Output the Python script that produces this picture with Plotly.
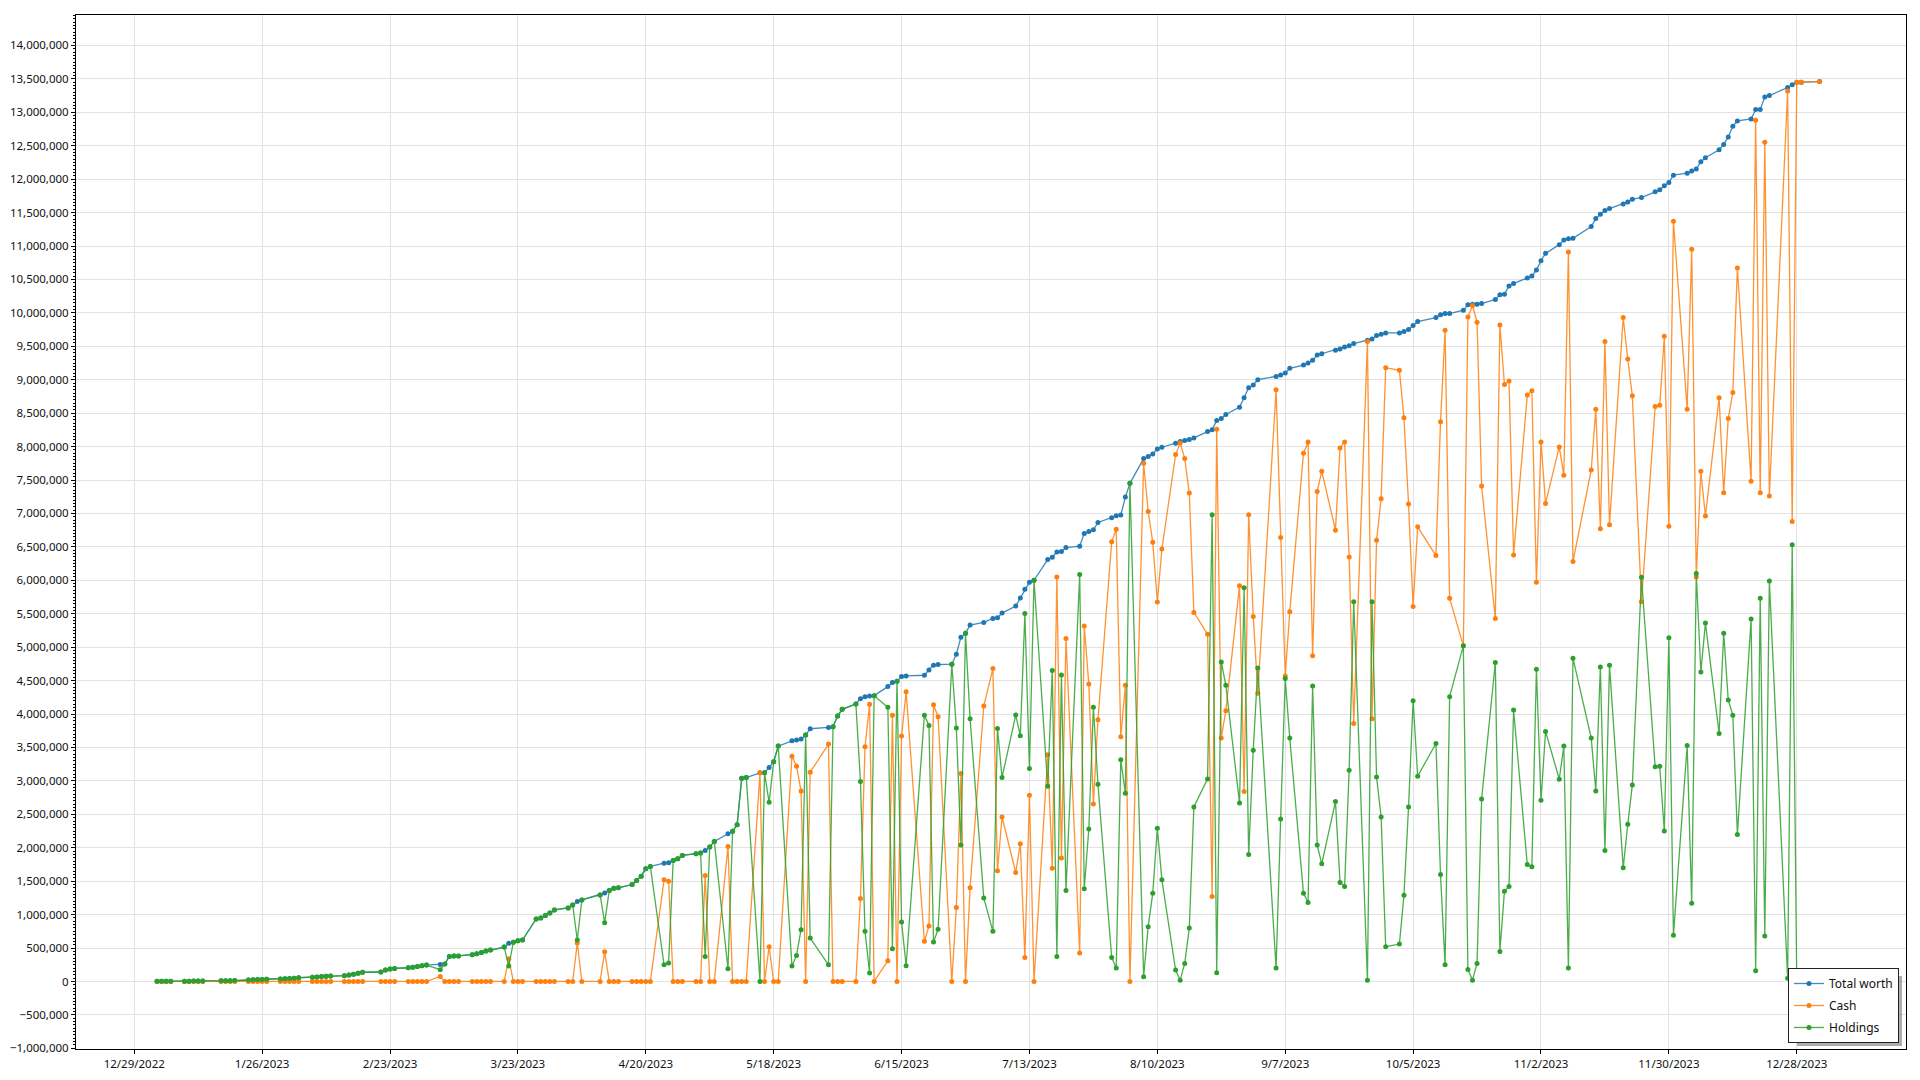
import plotly.graph_objects as go

# Trading days shown on the chart (month -> day numbers)
TRADING_DAYS = {
    "2023-01": [3, 4, 5, 6, 9, 10, 11, 12, 13, 17, 18, 19, 20, 23, 24, 25, 26, 27, 30, 31],
    "2023-02": [1, 2, 3, 6, 7, 8, 9, 10, 13, 14, 15, 16, 17, 21, 22, 23, 24, 27, 28],
    "2023-03": [1, 2, 3, 6, 7, 8, 9, 10, 13, 14, 15, 16, 17, 20, 21, 22, 23, 24, 27, 28, 29, 30, 31],
    "2023-04": [3, 4, 5, 6, 10, 11, 12, 13, 14, 17, 18, 19, 20, 21, 24, 25, 26, 27, 28],
    "2023-05": [1, 2, 3, 4, 5, 8, 9, 10, 11, 12, 15, 16, 17, 18, 19, 22, 23, 24, 25, 26, 30, 31],
    "2023-06": [1, 2, 5, 6, 7, 8, 9, 12, 13, 14, 15, 16, 20, 21, 22, 23, 26, 27, 28, 29, 30],
    "2023-07": [3, 5, 6, 7, 10, 11, 12, 13, 14, 17, 18, 19, 20, 21, 24, 25, 26, 27, 28, 31],
    "2023-08": [1, 2, 3, 4, 7, 8, 9, 10, 11, 14, 15, 16, 17, 18, 21, 22, 23, 24, 25, 28, 29, 30, 31],
    "2023-09": [1, 5, 6, 7, 8, 11, 12, 13, 14, 15, 18, 19, 20, 21, 22, 25, 26, 27, 28, 29],
    "2023-10": [2, 3, 4, 5, 6, 10, 11, 12, 13, 16, 17, 18, 19, 20, 23, 24, 25, 26, 27, 30, 31],
    "2023-11": [1, 2, 3, 6, 7, 8, 9, 13, 14, 15, 16, 17, 20, 21, 22, 24, 27, 28, 29, 30],
    "2023-12": [1, 4, 5, 6, 7, 8, 11, 12, 13, 14, 15, 18, 19, 20, 21, 22, 26, 27, 28, 29],
    "2024-01": [2],
}

# Values in millions
TOTAL_WORTH_M = [
    # Jan
    0.002, 0.002, 0.003, 0.003, 0.005, 0.005, 0.006, 0.006, 0.007, 0.010, 0.011, 0.012, 0.013,
    0.022, 0.025, 0.028, 0.030, 0.032, 0.038, 0.042,
    # Feb
    0.046, 0.050, 0.055, 0.062, 0.068, 0.073, 0.078, 0.082, 0.087, 0.095, 0.108, 0.122, 0.138,
    0.142, 0.170, 0.185, 0.195, 0.205, 0.212,
    # Mar
    0.225, 0.235, 0.245, 0.252, 0.262, 0.375, 0.380, 0.382, 0.400, 0.415, 0.435, 0.455, 0.470,
    0.515, 0.570, 0.585, 0.610, 0.620, 0.935, 0.950, 0.985, 1.025, 1.070,
    # Apr
    1.100, 1.145, 1.195, 1.220, 1.295, 1.325, 1.360, 1.395, 1.400, 1.450, 1.510, 1.575, 1.685,
    1.720, 1.770, 1.775, 1.810, 1.835, 1.885,
    # May
    1.910, 1.920, 1.960, 2.010, 2.095, 2.210, 2.245, 2.345, 3.040, 3.050, 3.120, 3.120, 3.200,
    3.285, 3.520, 3.600, 3.610, 3.625, 3.685, 3.780, 3.800, 3.810,
    # Jun
    3.970, 4.070, 4.150, 4.230, 4.260, 4.270, 4.275, 4.410, 4.470, 4.490, 4.560, 4.570, 4.580,
    4.660, 4.730, 4.740, 4.745, 4.895, 5.150, 5.210, 5.330,
    # Jul
    5.370, 5.430, 5.440, 5.510, 5.615, 5.735, 5.865, 5.970, 6.000, 6.310, 6.345, 6.425, 6.430,
    6.490, 6.510, 6.700, 6.730, 6.755, 6.865, 6.935,
    # Aug
    6.965, 6.975, 7.245, 7.450, 7.820, 7.850, 7.890, 7.965, 7.990, 8.050, 8.075, 8.090, 8.105,
    8.130, 8.225, 8.250, 8.390, 8.420, 8.480, 8.590, 8.730, 8.880, 8.920,
    # Sep
    9.000, 9.050, 9.070, 9.100, 9.170, 9.220, 9.250, 9.290, 9.370, 9.390, 9.440, 9.460, 9.490,
    9.510, 9.540, 9.590, 9.610, 9.660, 9.680, 9.700,
    # Oct
    9.700, 9.720, 9.750, 9.810, 9.870, 9.930, 9.970, 9.990, 9.990, 10.040, 10.120, 10.130,
    10.130, 10.140, 10.200, 10.270, 10.280, 10.400, 10.440, 10.520, 10.550,
    # Nov
    10.640, 10.780, 10.890, 11.020, 11.090, 11.110, 11.115, 11.290, 11.410, 11.475, 11.530,
    11.560, 11.630, 11.660, 11.700, 11.725, 11.810, 11.840, 11.900, 11.950,
    # Dec
    12.060, 12.090, 12.120, 12.150, 12.260, 12.320, 12.440, 12.520, 12.630, 12.790, 12.870,
    12.900, 13.040, 13.040, 13.230, 13.250, 13.370, 13.410, 13.450, 13.450,
    # Jan 2024
    13.460,
]

CASH_M = [
    # Jan
    0, 0, 0, 0, 0, 0, 0, 0, 0, 0, 0, 0, 0, 0, 0, 0, 0, 0, 0, 0,
    # Feb
    0, 0, 0, 0, 0, 0, 0, 0, 0, 0, 0, 0, 0, 0, 0, 0, 0, 0, 0,
    # Mar
    0, 0, 0, 0.075, 0, 0, 0, 0, 0, 0, 0, 0, 0, 0, 0.340, 0, 0, 0, 0, 0, 0, 0, 0,
    # Apr
    0, 0, 0.575, 0, 0, 0.445, 0, 0, 0, 0, 0, 0, 0, 0, 1.520, 1.500, 0, 0, 0,
    # May
    0, 0, 1.585, 0, 0, 2.020, 0, 0, 0, 0, 3.120, 0, 0.520, 0, 0, 3.370, 3.220, 2.850, 0,
    3.130, 3.550, 0,
    # Jun
    0, 0, 0, 1.240, 3.510, 4.145, 0, 0.310, 3.980, 0, 3.670, 4.335, 0.600, 0.830, 4.140,
    3.960, 0, 1.105, 3.110, 0, 1.400,
    # Jul
    4.120, 4.680, 1.655, 2.460, 1.630, 2.060, 0.360, 2.785, 0, 3.390, 1.695, 6.050, 1.845,
    5.130, 0.425, 5.315, 4.450, 2.655, 3.915, 6.575,
    # Aug
    6.765, 3.660, 4.430, 0, 7.750, 7.030, 6.570, 5.675, 6.470, 7.880, 8.055, 7.820, 7.305,
    5.520, 5.195, 1.270, 8.260, 3.640, 4.050, 5.920, 2.840, 6.980, 5.460,
    # Sep
    4.310, 8.850, 6.640, 4.570, 5.530, 7.900, 8.070, 4.870, 7.330, 7.630, 6.750, 7.980, 8.070,
    6.350, 3.860, 9.570, 3.930, 6.600, 7.220, 9.180,
    # Oct
    9.140, 8.430, 7.140, 5.610, 6.800, 6.370, 8.370, 9.740, 5.730, 5.020, 9.940, 10.110,
    9.860, 7.410, 5.430, 9.820, 8.930, 8.980, 6.380, 8.770, 8.835,
    # Nov
    5.970, 8.070, 7.150, 7.995, 7.570, 10.910, 6.280, 7.650, 8.560, 6.770, 9.570, 6.830,
    9.930, 9.310, 8.760, 5.680, 8.600, 8.620, 9.650, 6.810,
    # Dec
    11.370, 8.560, 10.950, 6.050, 7.630, 6.960, 8.730, 7.310, 8.420, 8.810, 10.670, 7.480,
    12.880, 7.310, 12.550, 7.260, 13.320, 6.880, 13.450, 13.450,
    # Jan 2024
    13.460,
]

HOLDINGS_M = [
    # Jan
    0.002, 0.002, 0.003, 0.003, 0.005, 0.005, 0.006, 0.006, 0.007, 0.010, 0.011, 0.012, 0.013,
    0.022, 0.025, 0.028, 0.030, 0.032, 0.038, 0.042,
    # Feb
    0.046, 0.050, 0.055, 0.062, 0.068, 0.073, 0.078, 0.082, 0.087, 0.095, 0.108, 0.122, 0.138,
    0.142, 0.170, 0.185, 0.195, 0.205, 0.212,
    # Mar
    0.225, 0.235, 0.245, 0.177, 0.262, 0.375, 0.380, 0.382, 0.400, 0.415, 0.435, 0.455, 0.470,
    0.515, 0.230, 0.585, 0.610, 0.620, 0.935, 0.950, 0.985, 1.025, 1.070,
    # Apr
    1.100, 1.145, 0.620, 1.220, 1.295, 0.880, 1.360, 1.395, 1.400, 1.450, 1.510, 1.575, 1.685,
    1.720, 0.250, 0.275, 1.810, 1.835, 1.885,
    # May
    1.910, 1.920, 0.375, 2.010, 2.095, 0.190, 2.245, 2.345, 3.040, 3.050, 0, 3.120, 2.680,
    3.285, 3.520, 0.230, 0.390, 0.775, 3.685, 0.650, 0.250, 3.810,
    # Jun
    3.970, 4.070, 4.150, 2.990, 0.750, 0.125, 4.275, 4.100, 0.490, 4.490, 0.890, 0.235, 3.980,
    3.830, 0.590, 0.780, 4.745, 3.790, 2.040, 5.210, 3.930,
    # Jul
    1.250, 0.750, 3.785, 3.050, 3.985, 3.675, 5.505, 3.185, 6.000, 2.920, 4.650, 0.375, 4.585,
    1.360, 6.085, 1.385, 2.280, 4.100, 2.950, 0.360,
    # Aug
    0.200, 3.315, 2.815, 7.450, 0.070, 0.820, 1.320, 2.290, 1.520, 0.170, 0.020, 0.270, 0.800,
    2.610, 3.030, 6.980, 0.130, 4.780, 4.430, 2.670, 5.890, 1.900, 3.460,
    # Sep
    4.690, 0.200, 2.430, 4.530, 3.640, 1.320, 1.180, 4.420, 2.040, 1.760, 2.690, 1.480, 1.420,
    3.160, 5.680, 0.020, 5.680, 3.060, 2.460, 0.520,
    # Oct
    0.560, 1.290, 2.610, 4.200, 3.070, 3.560, 1.600, 0.250, 4.260, 5.020, 0.180, 0.020, 0.270,
    2.730, 4.770, 0.450, 1.350, 1.420, 4.060, 1.750, 1.715,
    # Nov
    4.670, 2.710, 3.740, 3.025, 3.520, 0.200, 4.835, 3.640, 2.850, 4.705, 1.960, 4.730, 1.700,
    2.350, 2.940, 6.045, 3.210, 3.220, 2.250, 5.140,
    # Dec
    0.690, 3.530, 1.170, 6.100, 4.630, 5.360, 3.710, 5.210, 4.210, 3.980, 2.200, 5.420, 0.160,
    5.730, 0.680, 5.990, 0.050, 6.530, 0, 0,
    # Jan 2024
    0,
]

SERIES_NAMES = ["Total worth", "Cash", "Holdings"]

dates = [f"{ym}-{d:02d}" for ym, days in TRADING_DAYS.items() for d in days]
assert len(dates) == len(TOTAL_WORTH_M) == len(CASH_M) == len(HOLDINGS_M), (
    len(dates), len(TOTAL_WORTH_M), len(CASH_M), len(HOLDINGS_M))

series = [
    (SERIES_NAMES[0], TOTAL_WORTH_M, (31, 119, 180)),
    (SERIES_NAMES[1], CASH_M, (255, 127, 14)),
    (SERIES_NAMES[2], HOLDINGS_M, (44, 160, 44)),
]

fig = go.Figure()
for i, (name, vals, (r, g, b)) in enumerate(series):
    fig.add_trace(go.Scatter(
        x=dates,
        y=[v * 1_000_000 for v in vals],
        name=name,
        legendgroup=f"g{i}",
        mode="lines+markers",
        line=dict(color=f"rgba({r},{g},{b},0.85)", width=1.3),
        marker=dict(color=f"rgb({r},{g},{b})", size=5),
    ))

FONT = "Noto Sans, Segoe UI, sans-serif"
FS = 11.5

# plot-area pixel geometry
W, H = 1920, 1080
L, R, T, B = 76, 14, 15, 31
pw, ph = W - L - R, H - T - B

def px_x(x):
    return (x - L) / pw

def px_y(y):
    return (H - B - y) / ph

fig.update_layout(
    width=W, height=H,
    margin=dict(l=L, r=R, t=T, b=B, autoexpand=False),
    paper_bgcolor="white",
    plot_bgcolor="white",
    font=dict(family=FONT, size=FS, color="#111111"),
    showlegend=True,
    legend=dict(
        x=px_x(1899), y=px_y(1043), xanchor="right", yanchor="bottom",
        bgcolor="white", bordercolor="#222222", borderwidth=1,
        traceorder="grouped", tracegroupgap=3,
        font=dict(family=FONT, size=12, color="#111111"),
    ),
    shapes=[dict(
        type="rect", xref="paper", yref="paper", layer="above",
        x0=px_x(1797), x1=px_x(1902), y0=px_y(1046), y1=px_y(976),
        fillcolor="rgba(120,120,120,0.6)", line=dict(width=0),
    )],
)

fig.update_xaxes(
    type="date",
    automargin=False,
    range=["2022-12-16 06:00", "2024-01-20 22:00"],
    tick0="2022-12-29",
    dtick=28 * 86400000,
    tickformat="%-m/%-d/%Y",
    showgrid=True, gridcolor="#e2e2e2", gridwidth=1,
    showline=True, linecolor="black", linewidth=1, mirror=True,
    ticks="outside", ticklen=4, tickcolor="black",
    tickfont=dict(family=FONT, size=FS, color="#111111"),
    zeroline=False,
)
fig.update_yaxes(
    automargin=False,
    range=[-1_010_000, 14_455_000],
    dtick=500_000,
    tick0=0,
    tickformat=",d",
    showgrid=True, gridcolor="#e2e2e2", gridwidth=1,
    showline=True, linecolor="black", linewidth=1, mirror=True,
    ticks="outside", ticklen=4, tickcolor="black",
    minor=dict(ticks="outside", ticklen=2, dtick=50_000, tickcolor="black", showgrid=False),
    tickfont=dict(family=FONT, size=FS, color="#111111"),
    zeroline=False,
)

fig.write_html(
    "out.html",
    config={"displayModeBar": False},
    post_script="document.body.style.margin='0';document.body.style.padding='0';",
)
